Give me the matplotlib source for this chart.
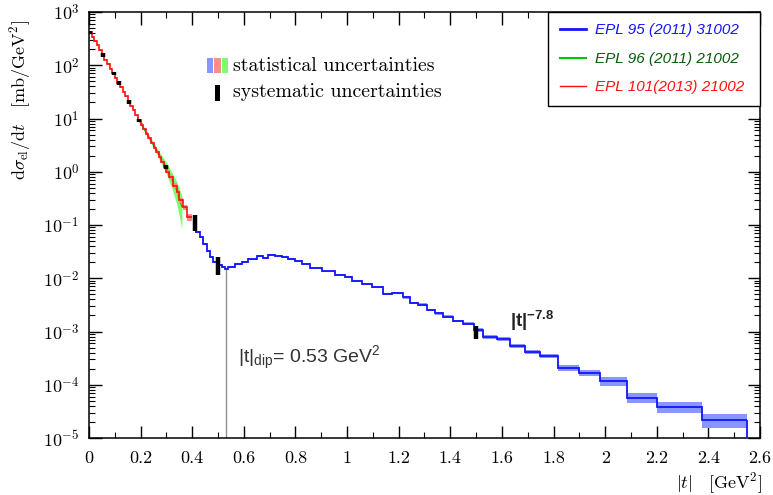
import numpy as np
import matplotlib
matplotlib.use('Agg')
import matplotlib.pyplot as plt
from matplotlib.lines import Line2D
from matplotlib.patches import Rectangle
from matplotlib.ticker import FuncFormatter, MultipleLocator, LogLocator, NullFormatter

plt.rcParams['font.family'] = 'serif'
plt.rcParams['font.serif'] = ['cmr10']
plt.rcParams['mathtext.fontset'] = 'cm'
plt.rcParams['axes.unicode_minus'] = False
plt.rcParams['axes.formatter.use_mathtext'] = True
plt.rcParams['mathtext.rm'] = 'Liberation Sans'
plt.rcParams['mathtext.it'] = 'Liberation Sans:italic'
plt.rcParams['mathtext.bf'] = 'Liberation Sans:bold'

# EPL 101 (2013) 21002 -- red histogram
red_edges = [0.00, 0.01, 0.02, 0.03, 0.04, 0.05, 0.06, 0.07, 0.08, 0.09,
             0.10, 0.11, 0.12, 0.13, 0.14, 0.15, 0.16, 0.17, 0.18, 0.19,
             0.20, 0.21, 0.22, 0.23, 0.24, 0.25, 0.26, 0.27, 0.28, 0.29,
             0.30, 0.31, 0.325, 0.34, 0.35, 0.365, 0.378, 0.398]
red_vals = [420, 345, 285, 235, 190, 158, 128, 105, 86, 71,
            58, 47, 39, 32, 26, 21, 17.5, 14.2, 11.5, 9.4,
            7.7, 6.3, 5.2, 4.3, 3.5, 2.85, 2.35, 1.9, 1.55, 1.25,
            1.0, 0.79, 0.55, 0.41, 0.29, 0.215, 0.14]
red_err = [0.03] * 20 + [0.05] * 10 + [0.06, 0.08, 0.10, 0.10, 0.12, 0.12, 0.15]

# EPL 96 (2011) 21002 -- green band
green_t = [0.19, 0.22, 0.25, 0.28, 0.30, 0.32, 0.34, 0.36]
green_vals = [10.0, 5.6, 3.2, 1.75, 1.2, 0.75, 0.45, 0.22]
green_err = [0.05, 0.08, 0.12, 0.18, 0.25, 0.32, 0.45, 0.62]

# EPL 95 (2011) 31002 -- blue histogram
blue_edges = [0.410, 0.430, 0.443, 0.456, 0.469, 0.482, 0.498, 0.514, 0.527, 0.540,
              0.566, 0.592, 0.617, 0.650, 0.676, 0.695, 0.721, 0.747, 0.772, 0.798,
              0.824, 0.857, 0.902, 0.953, 0.992, 1.018, 1.057, 1.096, 1.141, 1.173,
              1.218, 1.244, 1.276, 1.309, 1.341, 1.373, 1.412, 1.451, 1.490, 1.528,
              1.580, 1.632, 1.690, 1.748, 1.819, 1.897, 1.981, 2.084, 2.200, 2.374,
              2.549]
blue_vals = [0.075, 0.0586, 0.044, 0.033, 0.0247, 0.0205, 0.018, 0.0165, 0.0149, 0.0165,
             0.0185, 0.0205, 0.023, 0.0258, 0.024, 0.0277, 0.0262, 0.0247, 0.023, 0.0214,
             0.0183, 0.0156, 0.0134, 0.0116, 0.0104, 0.0090, 0.0078, 0.0069, 0.0050, 0.0052,
             0.0044, 0.00345, 0.00317, 0.00255, 0.00221, 0.00191, 0.00158, 0.00141, 0.00106, 0.00079,
             0.00072, 0.000536, 0.000419, 0.000347, 0.000204, 0.000168, 0.000117, 0.000057, 0.0000385, 0.0000216]
blue_err = [0.04] * 30 + [0.06] * 8 + [0.09] * 6 + [0.13, 0.13, 0.19, 0.22, 0.24, 0.30]

# systematic uncertainties
sys_red_t = [0.004, 0.055, 0.097, 0.118, 0.156, 0.195, 0.297]
sys_red_vals = [415, 155, 70, 46.6, 20.5, 9.25, 1.22]
sys_blue_t = [0.409, 0.498, 1.501]
sys_blue_lo = [0.0785, 0.0116, 0.00072]
sys_blue_hi = [0.157, 0.0247, 0.00127]

t_dip = 0.53

fig = plt.figure(figsize=(7.73, 4.95), dpi=100)
ax = fig.add_axes([89 / 773, 1 - 438 / 495, (760 - 89) / 773, (438 - 12) / 495])

BLUE = '#1414ff'
BLUE_BAND = '#8896ff'
RED = '#ff1010'
RED_BAND = '#ff8c8c'
GREEN = '#00c800'
GREEN_BAND = '#7cff6e'

# green band + line
gv = np.array(green_vals)
ge = np.array(green_err)
ax.fill_between(green_t, gv * (1 - ge), gv * (1 + ge), color=GREEN_BAND, lw=0, zorder=1)
ax.plot(green_t, gv, color=GREEN, lw=1, zorder=2)

# red
rv = np.array(red_vals)
re = np.array(red_err)
ax.stairs(rv * (1 + re), red_edges, baseline=rv * (1 - re), fill=True, color=RED_BAND, lw=0, zorder=2)
ax.stairs(rv, red_edges, baseline=None, color=RED, lw=1.2, zorder=3)

# blue
bv = np.array(blue_vals)
be = np.array(blue_err)
ax.stairs(bv * (1 + be), blue_edges, baseline=bv * (1 - be), fill=True, color=BLUE_BAND, lw=0, zorder=2)
ax.stairs(bv, blue_edges, baseline=None, color=BLUE, lw=1.3, zorder=3)
ax.vlines(blue_edges[-1], 1e-5, blue_vals[-1], color=BLUE, lw=1.3, zorder=3)

# dip line, from the blue histogram down to the axis
dip_val = blue_vals[np.searchsorted(blue_edges, t_dip) - 1]
ax.vlines(t_dip, 1e-5, dip_val, color='#909090', lw=1, zorder=1)

# systematic bars
sv = np.array(sys_red_vals)
ax.vlines(sys_red_t, sv * 0.92, sv * 1.08, color='black', lw=3.2, zorder=4)
ax.vlines(sys_blue_t, sys_blue_lo, sys_blue_hi, color='black', lw=3.2, zorder=4)

ax.set_yscale('log')
ax.set_xlim(0, 2.6)
ax.set_ylim(1e-5, 1e3)

ax.xaxis.set_major_locator(MultipleLocator(0.2))
ax.xaxis.set_minor_locator(MultipleLocator(0.1))
ax.xaxis.set_major_formatter(FuncFormatter(lambda v, p: '%g' % round(v, 2)))
ax.yaxis.set_major_locator(LogLocator(base=10, numticks=20))
ax.yaxis.set_minor_locator(LogLocator(base=10, subs=np.arange(2, 10), numticks=20))
ax.yaxis.set_minor_formatter(NullFormatter())
ax.yaxis.set_major_formatter(FuncFormatter(lambda v, p: r'$10^{%d}$' % round(np.log10(v))))
ax.tick_params(which='both', direction='in', top=True, right=True, labelsize=13)
ax.tick_params(which='major', length=9, width=1)
ax.tick_params(which='minor', length=4.5, width=0.8)
ax.tick_params(axis='x', pad=9)
ax.tick_params(axis='y', pad=7)
for s in ax.spines.values():
    s.set_linewidth(1.1)

fig.text(20 / 773, 1 - 100 / 495,
         r'$\mathrm{d}\sigma_{\mathrm{el}}/\mathrm{d}t\quad[\mathrm{mb/GeV^2}]$',
         rotation=90, ha='center', va='center', fontsize=13)
ax.text(1.004, -0.106, r'$|t|\quad[\mathrm{GeV^2}]$', transform=ax.transAxes,
        ha='right', va='center', fontsize=13)

# uncertainty key
for x0, c in zip([0.1754, 0.187, 0.198], [BLUE_BAND, RED_BAND, GREEN_BAND]):
    ax.add_patch(Rectangle((x0, 0.856), 0.0095, 0.035, transform=ax.transAxes,
                           color=c, lw=0, zorder=5))
ax.add_patch(Rectangle((0.1878, 0.792), 0.0074, 0.037, transform=ax.transAxes,
                       color='black', lw=0, zorder=5))
ax.text(0.2146, 0.874, 'statistical uncertainties', transform=ax.transAxes,
        ha='left', va='center', fontsize=14.3)
ax.text(0.2146, 0.813, 'systematic uncertainties', transform=ax.transAxes,
        ha='left', va='center', fontsize=14.3)

# annotations
ax.text(0.222, 0.188, r'$\mathrm{|t|_{dip}}$= 0.53 GeV$^\mathrm{2}$', transform=ax.transAxes,
        ha='left', va='center', fontsize=14, family='Liberation Sans',
        math_fontfamily='custom', color='#333333')
ax.text(0.6274, 0.275, r'$\mathbf{|t|^{-7.8}}$', transform=ax.transAxes,
        ha='left', va='center', fontsize=13.5, math_fontfamily='custom', color='#222222')

# legend
handles = [Line2D([], [], color=BLUE, lw=2),
           Line2D([], [], color=GREEN, lw=1.5),
           Line2D([], [], color=RED, lw=1)]
labels = ['EPL 95 (2011) 31002 ', 'EPL 96 (2011) 21002 ', 'EPL 101(2013) 21002 ']
leg = ax.legend(handles, labels, loc='upper right', bbox_to_anchor=(1, 1), borderaxespad=0,
                fancybox=False, edgecolor='black', framealpha=1,
                prop={'family': 'Liberation Sans', 'style': 'italic', 'size': 11},
                handlelength=1.7, handletextpad=0.6, labelspacing=0.95, borderpad=0.75)
leg.get_frame().set_linewidth(1)
for txt, c in zip(leg.get_texts(), ['#1414ff', '#0a5a0a', '#ff1010']):
    txt.set_color(c)

fig.savefig('out.png', dpi=100)
